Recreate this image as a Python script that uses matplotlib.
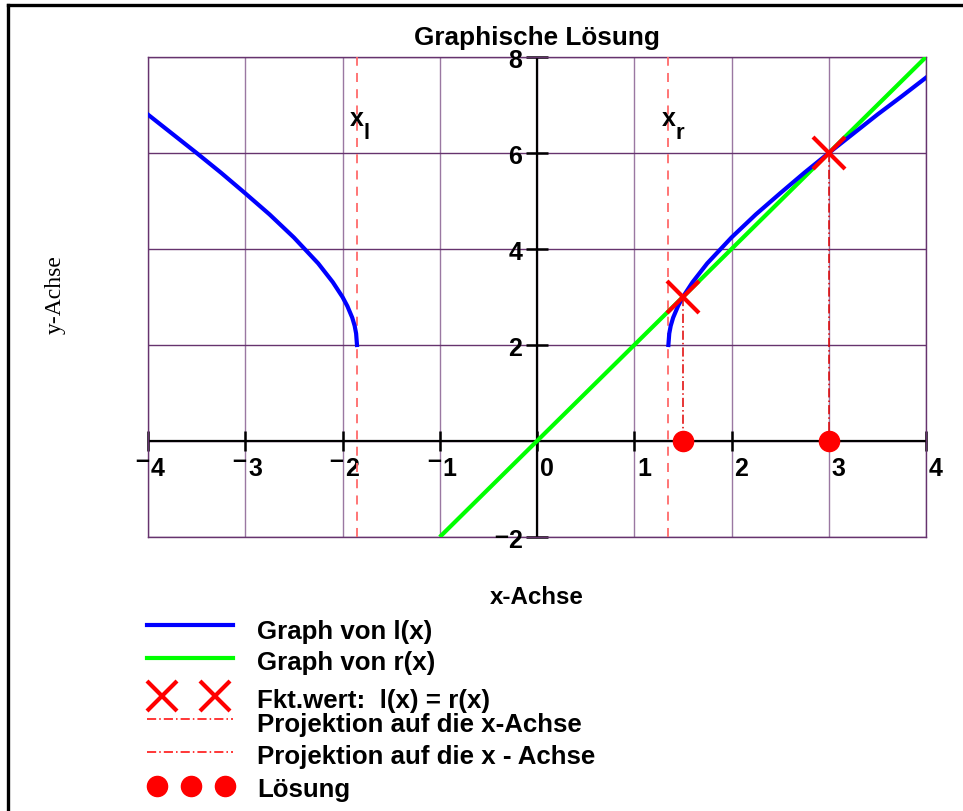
import matplotlib.pyplot as plt
from matplotlib.transforms import offset_copy

# Werte aus dem Bild abgelesen
# linker Ast von l(x)
xl_links = [-4.0, -3.75, -3.5, -3.25, -3.0, -2.75, -2.5, -2.25, -2.1, -2.0, -1.95, -1.9, -1.875, -1.86, -1.851]
yl_links = [6.80, 6.40, 6.00, 5.59, 5.16, 4.72, 4.24, 3.70, 3.31, 3.00, 2.81, 2.57, 2.40, 2.24, 2.00]
# rechter Ast von l(x)
xl_rechts = [1.351, 1.36, 1.375, 1.4, 1.45, 1.5, 1.6, 1.75, 2.0, 2.25, 2.5, 2.75, 3.0, 3.25, 3.5, 3.75, 4.0]
yl_rechts = [2.00, 2.24, 2.40, 2.57, 2.81, 3.00, 3.31, 3.70, 4.24, 4.72, 5.16, 5.59, 6.00, 6.40, 6.80, 7.18, 7.57]
# r(x)
xr = [-1.0, 4.0]
yr = [-2.0, 8.0]
# Schnittpunkte
x_schnitt = [1.5, 3.0]
y_schnitt = [3.0, 6.0]
# Definitionsgrenzen x_l, x_r
x_grenzen = [-1.851, 1.351]
grenz_namen = ['l', 'r']

xticks = [-4, -3, -2, -1, 0, 1, 2, 3, 4]
yticks = [-2, 2, 4, 6, 8]

legende = ['Graph von l(x)', 'Graph von r(x)', 'Fkt.wert:  l(x) = r(x)',
           'Projektion auf die x-Achse', 'Projektion auf die x - Achse', 'Lösung']

plt.rcParams['font.family'] = ['Liberation Sans', 'DejaVu Sans']

W, H = 963, 812
fig = plt.figure(figsize=(W / 100, H / 100), dpi=100)
ax = fig.add_axes([148 / W, 1 - 538 / H, 778 / W, 480 / H])
ax.set_xlim(-4, 4)
ax.set_ylim(-2, 8)
ax.set_xticks(xticks)
ax.set_yticks([-2, 0, 2, 4, 6, 8])
ax.grid(True, axis='x', color='#9a78a2', lw=1)
ax.grid(True, axis='y', color='#66336e', lw=1)
ax.tick_params(length=0, labelbottom=False, labelleft=False)
for s in ax.spines.values():
    s.set_color('#66336e')
    s.set_linewidth(1)

# Koordinatenachsen durch den Ursprung
ax.axhline(0, color='black', lw=1.6, zorder=2)
ax.axvline(0, color='black', lw=1.6, zorder=2)
ax.plot(xticks, [0] * len(xticks), ls='none', marker='|', ms=14, mew=1.8,
        color='black', clip_on=False, zorder=2)
ax.plot([0] * len(yticks), yticks, ls='none', marker='_', ms=16, mew=1.8,
        color='black', clip_on=False, zorder=2)

# Achsenbeschriftung (Mathcad-Stil: Minus hochgestellt)
fs = 18
for v in xticks:
    t = offset_copy(ax.transData, fig=fig, x=3, y=-15, units='dots')
    ax.text(v, 0, str(abs(v)), transform=t, ha='left', va='top',
            fontsize=fs, fontweight='bold')
    if v < 0:
        t2 = offset_copy(ax.transData, fig=fig, x=1, y=-7, units='dots')
        ax.text(v, 0, '\u2013', transform=t2, ha='right', va='top',
                fontsize=fs, fontweight='bold')
for v in yticks:
    t = offset_copy(ax.transData, fig=fig, x=-15, y=-3, units='dots')
    ax.text(0, v, str(abs(v)), transform=t, ha='right', va='center',
            fontsize=fs, fontweight='bold')
    if v < 0:
        t2 = offset_copy(ax.transData, fig=fig, x=-29, y=1, units='dots')
        ax.text(0, v, '\u2013', transform=t2, ha='right', va='center',
                fontsize=fs, fontweight='bold')

# Grenzen x_l und x_r
for xg, name in zip(x_grenzen, grenz_namen):
    ax.axvline(xg, color='#ff6a6a', lw=1.3, ls=(0, (5, 4)), zorder=3)
    ax.text(xg, 6.72, 'x', ha='center', va='center', fontsize=18, fontweight='bold')
    ax.text(xg + 0.07, 6.42, name, ha='left', va='center', fontsize=16, fontweight='bold')

# Graphen
ax.plot(xr, yr, color='#00ff00', lw=3, zorder=4, solid_capstyle='butt')
ax.plot(xl_links, yl_links, color='#0000ff', lw=3, zorder=4)
ax.plot(xl_rechts, yl_rechts, color='#0000ff', lw=3, zorder=4)

# Projektion und Lösung
for xs, ys in zip(x_schnitt, y_schnitt):
    ax.plot([xs, xs], [ys, 0], color='#e00000', lw=1.1, ls=(0, (6, 2, 1, 2)), zorder=5)
ax.plot(x_schnitt, y_schnitt, ls='none', marker='x', ms=23, mew=3,
        color='#ff0000', zorder=6)
ax.plot(x_schnitt, [0] * len(x_schnitt), ls='none', marker='o', ms=14.5,
        color='#ff0000', zorder=6, clip_on=False)

# Overlay in Pixelkoordinaten: Rahmen, Titel, Achsentitel, Legende
lg = fig.add_axes([0, 0, 1, 1])
lg.set_xlim(0, W)
lg.set_ylim(H, 0)
lg.axis('off')
lg.plot([8, W], [6, 6], color='black', lw=2.4)
lg.plot([8, 8], [6, H], color='black', lw=2.4)

lg.text(537, 38, 'Graphische Lösung', ha='center', va='center', fontsize=18.8, fontweight='bold')
lg.text(537, 598, 'x-Achse', ha='center', va='center', fontsize=17.4, fontweight='bold')
lg.text(55, 295, 'y-Achse', ha='center', va='center', rotation=90, fontsize=17,
        family='Liberation Serif')

lg.plot([147, 233], [626, 626], color='#0000ff', lw=3)
lg.plot([147, 233], [659, 659], color='#00ff00', lw=3)
lg.plot([162, 215], [697, 697], ls='none', marker='x', ms=21, mew=3, color='#ff0000')
lg.plot([147, 233], [720, 720], color='#ff0000', lw=1.1, ls=(0, (6, 2, 1, 2)))
lg.plot([147, 233], [753, 753], color='#ff0000', lw=1.1, ls=(0, (6, 2, 1, 2)))
lg.plot([157, 191, 225], [787, 787, 787], ls='none', marker='o', ms=14.5, color='#ff0000')
for txt, yb in zip(legende, [639, 670, 708, 732, 764, 797]):
    lg.text(257, yb, txt, ha='left', va='baseline', fontsize=18.6, fontweight='bold')

fig.savefig('out.png', dpi=100)
